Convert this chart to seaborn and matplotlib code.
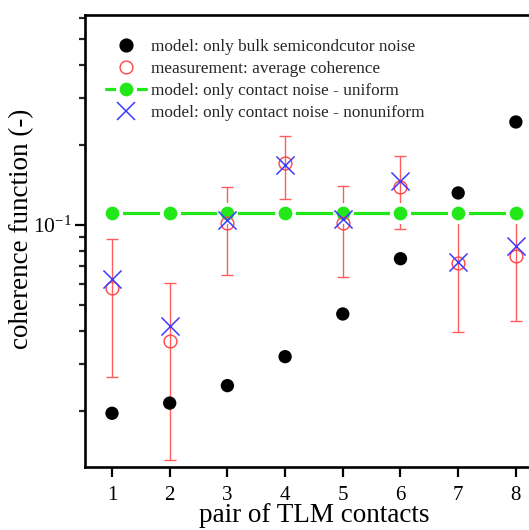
import numpy as np
import pandas as pd
import matplotlib
matplotlib.use("Agg")
import matplotlib.pyplot as plt
import seaborn as sns
from matplotlib.lines import Line2D

# TLM contact pairs
pairs = [1, 2, 3, 4, 5, 6, 7, 8]

# coherence values per pair
bulk_model = [0.0196, 0.0214, 0.0249, 0.0320, 0.0463, 0.0747, 0.132, 0.244]
measured = [0.0578, 0.0367, 0.102, 0.171, 0.102, 0.139, 0.0722, 0.0767]
measured_err = [0.031, 0.0236, 0.037, 0.046, 0.038, 0.042, 0.0325, 0.033]
contact_uniform = [0.111, 0.111, 0.111, 0.111, 0.111, 0.111, 0.111, 0.111]
contact_nonuniform = [0.0625, 0.0417, 0.1044, 0.168, 0.1049, 0.146, 0.0728, 0.0836]

df = pd.DataFrame({
    "pair": pairs,
    "bulk": bulk_model,
    "meas": measured,
    "err": measured_err,
    "uniform": contact_uniform,
    "nonuniform": contact_nonuniform,
})

sns.set_theme(style="ticks")
plt.rcParams["font.family"] = ["Liberation Serif", "DejaVu Serif"]
plt.rcParams["mathtext.fontset"] = "custom"
plt.rcParams["mathtext.rm"] = "Liberation Serif"
plt.rcParams["mathtext.it"] = "Liberation Serif:italic"

W, H = 529, 530
fig = plt.figure(figsize=(W / 100, H / 100), dpi=100)
ax = fig.add_axes([85 / W, 1 - 467 / H, 458 / W, 452 / H])

green = "#22E81A"
red = "#FF4545"
blue = "#3B3BFF"

# measurement error bars (drawn below the model markers)
ax.errorbar(df["pair"], df["meas"], yerr=df["err"], fmt="none",
            ecolor="#FF5C5C", elinewidth=1.0, capsize=4.5, capthick=1.0,
            zorder=2)

# uniform contact noise model: line with a small gap around each symbol
sns.lineplot(data=df, x="pair", y="uniform", ax=ax, color=green,
             linewidth=2.3, marker="o", markersize=12.5,
             markerfacecolor=green, markeredgecolor="white",
             markeredgewidth=2.6, zorder=3, label="_uniform")

# bulk semiconductor noise model
sns.scatterplot(data=df, x="pair", y="bulk", ax=ax, color="black",
                marker="o", s=92, edgecolor="none", zorder=5)

# measured average coherence
ax.plot(df["pair"], df["meas"], linestyle="none", marker="o",
        markersize=9.2, markerfacecolor="none", markeredgecolor=red,
        markeredgewidth=1.0, zorder=4)

# nonuniform contact noise model
sns.scatterplot(data=df, x="pair", y="nonuniform", ax=ax, color=blue,
                marker="x", s=170, linewidth=1.1, zorder=6)

ax.set_yscale("log")
ax.set_xlim(0.532, 8.47)
ax.set_ylim(0.01231, 0.616)

ax.set_xticks(pairs)
ax.set_xticklabels([str(p) for p in pairs])
ax.yaxis.set_major_locator(matplotlib.ticker.LogLocator(base=10, numticks=10))
ax.yaxis.set_minor_locator(matplotlib.ticker.LogLocator(base=10, subs=np.arange(2, 10), numticks=20))
ax.yaxis.set_minor_formatter(matplotlib.ticker.NullFormatter())

ax.tick_params(axis="x", which="major", direction="out", length=7.5, width=1.6,
               labelsize=15, pad=6, colors="black")
ax.tick_params(axis="y", which="major", direction="out", length=7.5, width=1.6,
               labelsize=15.5, pad=2, colors="black")
ax.tick_params(axis="y", which="minor", direction="out", length=4.0, width=1.6)
ax.tick_params(top=False, right=False, which="both")

for s in ax.spines.values():
    s.set_visible(True)
    s.set_linewidth(1.9)
    s.set_color("black")

ax.set_xlabel("pair of TLM contacts", fontsize=19.5, labelpad=-1, color="black")
ax.set_ylabel("coherence function (-)", fontsize=19.5, color="black")
ax.yaxis.set_label_coords(-0.11, 0.526)

# legend built from proxy handles
handles = [
    Line2D([], [], linestyle="none", marker="o", markersize=9.2,
           markerfacecolor="black", markeredgecolor="black"),
    Line2D([], [], linestyle="none", marker="o", markersize=9.2,
           markerfacecolor="none", markeredgecolor=red, markeredgewidth=1.0),
    Line2D([], [], color=green, linewidth=2.3, marker="o", markersize=12.5,
           markerfacecolor=green, markeredgecolor="white", markeredgewidth=2.6),
    Line2D([], [], linestyle="none", marker="x", markersize=13, color=blue,
           markeredgewidth=1.1),
]
labels = [
    "model: only bulk semicondcutor noise",
    "measurement: average coherence",
    "model: only contact noise - uniform",
    "model: only contact noise - nonuniform",
]
ax.legend(handles, labels, loc="upper left", bbox_to_anchor=(0.046, 0.948),
          frameon=False, fontsize=12.4, handlelength=2.3, handletextpad=0.3,
          labelspacing=0.36, borderaxespad=0, borderpad=0)

fig.savefig("out.png", dpi=100)
